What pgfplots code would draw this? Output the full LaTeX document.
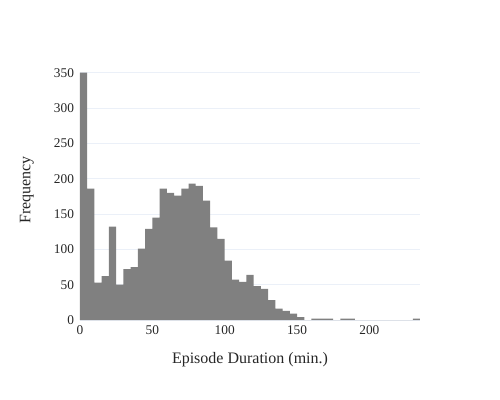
\documentclass[border=0pt]{standalone}
\usepackage{pgfplots}
\pgfplotsset{compat=1.18}
\usepackage{fontspec}
\setmainfont{Liberation Serif}
\definecolor{gridc}{HTML}{EBF0F8}
\definecolor{barc}{HTML}{808080}

\begin{document}
\begin{tikzpicture}
\begin{axis}[
    scale only axis, width=255pt, height=195pt,
    xmin=0, xmax=235, ymin=0, ymax=368,
    axis line style={draw=none}, major tick length=0pt,
    ymajorgrids, grid style={draw=gridc, line width=0.75pt},
    xtick={0,50,...,200}, ytick={0,50,...,350},
    tick label style={font=\fontsize{10}{11}\selectfont, text=black!85},
    /pgf/number format/assume math mode=true,
    xticklabel style={yshift=-1pt},
    yticklabel style={xshift=-1pt},
    xlabel={Episode Duration (min.)}, ylabel={Frequency},
    label style={font=\fontsize{12}{13}\selectfont, text=black!85},
    xlabel style={at={(axis description cs:0.5,-0.154)}, anchor=center},
    ylabel style={at={(axis description cs:-0.156,0.5)}, anchor=center},
]
\addplot[ybar interval, fill=barc, draw=none] coordinates {
(0,350) (5,186) (10,53) (15,62) (20,132) (25,50) (30,72) (35,75)
(40,101) (45,129) (50,145) (55,186) (60,180) (65,176) (70,186) (75,193)
(80,190) (85,169) (90,131) (95,115) (100,84) (105,57) (110,54) (115,64)
(120,48) (125,44) (130,28) (135,16) (140,13) (145,9) (150,4) (155,0)
(160,2) (165,2) (170,2) (175,0) (180,2) (185,2) (190,0) (195,0)
(200,0) (205,0) (210,0) (215,0) (220,0) (225,0) (230,2) (235,0)
};
\coordinate (sw) at (rel axis cs:0,0);
\coordinate (ne) at (rel axis cs:1,1);
\end{axis}
\path ([shift={(-60pt,-60pt)}]sw) rectangle ([shift={(60pt,45pt)}]ne);
\end{tikzpicture}
\end{document}
